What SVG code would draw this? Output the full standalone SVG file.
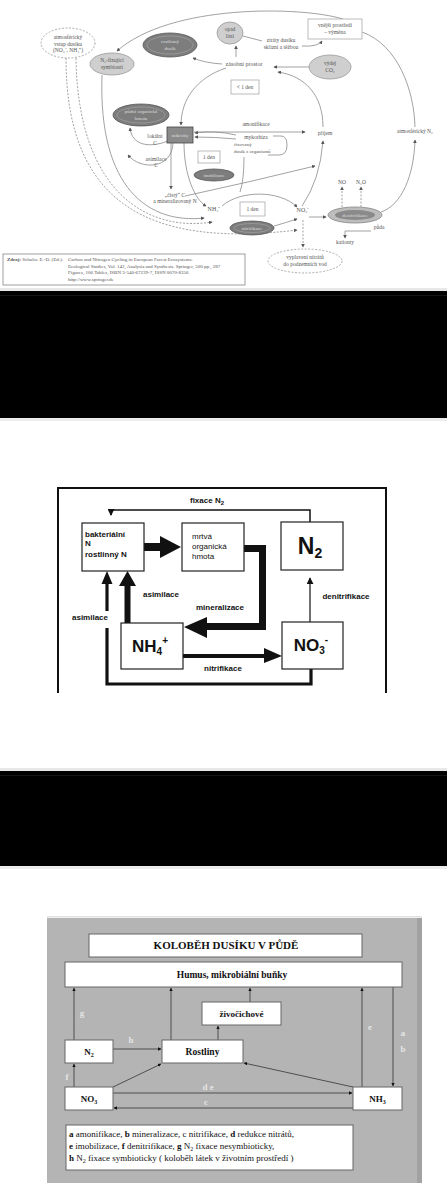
<svg xmlns="http://www.w3.org/2000/svg" width="447" height="1183" viewBox="0 0 447 1183">
<style>
.t{font-family:"Liberation Serif",serif;font-size:5.5px;fill:#555;text-anchor:middle}
.tl{font-family:"Liberation Serif",serif;font-size:5px;fill:#555;text-anchor:start}
.tw{font-family:"Liberation Serif",serif;font-size:5px;fill:#ddd;text-anchor:middle}
.ln{fill:none;stroke:#8a8a8a;stroke-width:0.8}
.ds{stroke-dasharray:2 1.5}
.el{fill:#fff;stroke:#999;stroke-width:0.8}
.lg{fill:#cfcfcf;stroke:#999;stroke-width:0.8}
.dk{fill:#7d7d7d;stroke:#555;stroke-width:0.8}
.ring{fill:none;stroke:#a8a8a8;stroke-width:0.6}
.sb{fill:#fff;stroke:#aaa;stroke-width:0.8}
.m{font-family:"Liberation Sans",Arial,sans-serif;font-weight:bold;font-size:8px;fill:#111;text-anchor:middle}
.mr{font-family:"Liberation Sans",Arial,sans-serif;font-size:8px;fill:#111}
.mb{fill:#fff;stroke:#222;stroke-width:1.2}
.thin{fill:none;stroke:#111;stroke-width:1.5}
.s{font-family:"Liberation Serif",serif;font-weight:bold;fill:#111;text-anchor:middle}
.wb{fill:#fff;stroke:#666;stroke-width:1}
.bl{stroke:#444;stroke-width:0.9;fill:none}
.lb{font-family:"Liberation Serif",serif;font-weight:bold;font-size:9px;fill:#e4e4e4;text-anchor:middle}
.lt{font-family:"Liberation Serif",serif;font-size:9px;fill:#111}
</style>
<defs>
<marker id="ta" viewBox="0 0 6 6" refX="5" refY="3" markerWidth="4.5" markerHeight="4.5" orient="auto"><path d="M0,0 L6,3 L0,6 z" fill="#555"/></marker>
<marker id="ma" viewBox="0 0 8 8" refX="7" refY="4" markerWidth="7" markerHeight="7" markerUnits="userSpaceOnUse" orient="auto"><path d="M0,0 L8,4 L0,8 z" fill="#111"/></marker>
<marker id="ba" viewBox="0 0 6 6" refX="5.5" refY="3" markerWidth="4" markerHeight="4" orient="auto"><path d="M0,0 L6,3 L0,6 z" fill="#111"/></marker>
</defs>

<rect width="447" height="1183" fill="#fff"/>

<!-- ================= TOP PANEL ================= -->
<g id="top-connectors">
<path class="ln" d="M343 19 C300 6 170 4 117 51" marker-end="url(#ta)"/>
<path class="ln" d="M236 57 L236 46" marker-end="url(#ta)"/>
<path class="ln" d="M243 36 L262 41"/>
<path class="ln" d="M302 46 Q318 47 322 41" marker-end="url(#ta)"/>
<path class="ln" d="M222 64 Q205 63 193 58" marker-end="url(#ta)"/>
<path class="ln" d="M226 68 C196 78 181 100 181 125" marker-end="url(#ta)"/>
<path class="ln" d="M309 67 L274 67" marker-end="url(#ta)"/>
<path class="ln" d="M323 127 C323 95 305 76 278 72" marker-end="url(#ta)"/>
<path class="ln" d="M362 32 C398 45 414 90 415 127"/>
<path class="ln" d="M381 212 C402 205 414 175 415 140" marker-end="url(#ta)"/>
<path class="ln" d="M194 132 L305 132" marker-end="url(#ta)"/>
<path class="ln" d="M273 136 L281 136 Q287 136 287 145 Q287 155 279 155 L268 155"/>
<path class="ln" d="M236 135 Q215 130 195 133" marker-end="url(#ta)"/>
<path class="ln" d="M236 139 Q215 137 195 137" marker-end="url(#ta)"/>
<path class="ln" d="M168 141 C150 148 132 146 130 128" marker-end="url(#ta)"/>
<path class="ln" d="M173 143 C172 170 140 170 128 155" marker-end="url(#ta)"/>
<path class="ln" d="M171 143 L171 189" marker-end="url(#ta)"/>
<path class="ln" d="M184 143 C184 175 195 200 206 206" marker-end="url(#ta)"/>
<path class="ln" d="M244 157 Q244 180 240 192"/>
<path class="ln" d="M185 196 Q250 182 315 166" marker-end="url(#ta)"/>
<path class="ln" d="M302 206 Q320 180 323 141" marker-end="url(#ta)"/>
<path class="ln" d="M222 206 C240 190 280 190 297 207" marker-end="url(#ta)"/>
<path class="ln" d="M274 226 Q288 222 297 219" marker-end="url(#ta)"/>
<path class="ln" d="M309 217 L326 217" marker-end="url(#ta)"/>
<path class="ln ds" d="M342 207 L342 187" marker-end="url(#ta)"/>
<path class="ln ds" d="M361 207 L361 187" marker-end="url(#ta)"/>
<path class="ln" d="M371 231 L345 231 L345 238" marker-end="url(#ta)"/>
<path class="ln ds" d="M303 220 L303 247" marker-end="url(#ta)"/>
<path class="ln ds" d="M66 58 C66 205 150 248 297 230" marker-end="url(#ta)"/>
<path class="ln ds" d="M76 58 C78 195 150 232 212 222" marker-end="url(#ta)"/>
<path class="ln" d="M102 75 C98 190 150 224 204 218" marker-end="url(#ta)"/>
</g>

<g id="t-atm"><ellipse class="el ds" cx="68" cy="43" rx="27" ry="15"/>
<text class="t" x="68" y="39">atmosférický</text><text class="t" x="68" y="45.5">vstup dusíku</text><text class="t" x="68" y="52">(NO₃⁻, NH₄⁺)</text></g>
<g id="t-fix"><ellipse class="lg" cx="112" cy="64" rx="22" ry="11"/>
<text class="t" x="112" y="62">N₂-fixující</text><text class="t" x="112" y="68.5">symbionti</text></g>
<g id="t-plant"><ellipse class="dk" cx="170" cy="45" rx="27" ry="12"/><ellipse class="ring" cx="170" cy="45" rx="23" ry="9"/>
<text class="tw" x="170" y="43">rostlinný</text><text class="tw" x="170" y="49.5">dusík</text></g>
<g id="t-opad"><ellipse class="lg" cx="230" cy="33" rx="13" ry="11"/>
<text class="t" x="230" y="31">opad</text><text class="t" x="230" y="37.5">listí</text></g>
<g id="t-loss"><text class="t" x="281" y="42">ztráty dusíku</text><text class="t" x="281" y="48.5">sklizní a těžbou</text></g>
<g id="t-ext"><rect class="sb" x="308" y="19" width="54" height="20"/>
<text class="t" x="335" y="27">vnější prostředí</text><text class="t" x="335" y="33.5">– výměna</text></g>
<g id="t-pool"><text class="t" x="244" y="66" style="font-size:6px">zásobní prostor</text></g>
<g id="t-co2"><ellipse class="lg" cx="330" cy="67" rx="21" ry="12"/>
<text class="t" x="330" y="65">výdej</text><text class="t" x="330" y="71.5">CO₂</text></g>
<g id="t-den1"><rect class="sb" x="231" y="80" width="28" height="14"/><text class="t" x="245" y="89">&lt; 1 den</text></g>
<g id="t-som"><ellipse class="dk" cx="141" cy="115" rx="28" ry="11"/><ellipse class="ring" cx="141" cy="115" rx="24" ry="8"/>
<text class="tw" x="141" y="113">půdní organická</text><text class="tw" x="141" y="119.5">hmota</text></g>
<g id="t-bact"><rect x="167" y="127" width="26" height="16" fill="#8a8a8a" stroke="#444" stroke-width="0.8"/>
<text class="tw" x="180" y="137">mikroby</text></g>
<g id="t-lab1"><text class="t" x="155" y="138">lokální</text><text class="t" x="155" y="145">C</text>
<text class="t" x="156" y="161">asimilace</text><text class="t" x="156" y="167">C</text></g>
<g id="t-amonl"><text class="t" x="256" y="126">amonifikace</text></g>
<g id="t-uptake"><text class="t" x="325" y="135">příjem</text></g>
<g id="t-atmn2"><text class="t" x="415" y="133">atmosférický N₂</text></g>
<g id="t-myk"><text class="t" x="256" y="139">mykorhiza</text>
<text class="tl" x="234" y="146">fixovaný</text><text class="tl" x="234" y="152.5">dusík z organismů</text></g>
<g id="t-den2"><rect class="sb" x="198" y="151" width="22" height="12"/><text class="t" x="209" y="159">1 den</text></g>
<g id="t-imob"><ellipse class="dk" cx="214" cy="175" rx="20" ry="6"/><text class="tw" x="214" y="177" style="font-size:4.5px">imobilizace</text></g>
<g id="t-clean"><text class="t" x="175" y="197">„čistý“ C</text><text class="t" x="175" y="203">a mineralizovaný N</text></g>
<g id="t-nh4"><text class="t" x="214" y="211" style="font-size:6px">NH₄⁺</text></g>
<g id="t-den3"><rect class="sb" x="240" y="202" width="25" height="14"/><text class="t" x="252.5" y="211">1 den</text></g>
<g id="t-nitr"><ellipse class="dk" cx="252" cy="228" rx="22" ry="7"/><ellipse class="ring" cx="252" cy="228" rx="18" ry="4.5"/><text class="tw" x="252" y="230">nitrifikace</text></g>
<g id="t-no3"><text class="t" x="303" y="212" style="font-size:6px">NO₃⁻</text></g>
<g id="t-denit"><ellipse cx="355" cy="215" rx="27" ry="8" fill="#bdbdbd" stroke="#888" stroke-width="0.8"/><ellipse cx="355" cy="215" rx="20" ry="5" fill="#8a8a8a"/>
<text class="tw" x="355" y="217">denitrifikace</text></g>
<g id="t-gas"><text class="t" x="342" y="184">NO</text><text class="t" x="361" y="184">N₂O</text></g>
<g id="t-soil"><text class="t" x="379" y="229">půda</text><text class="t" x="345" y="244">kationty</text></g>
<g id="t-leach"><ellipse class="el ds" cx="305" cy="261" rx="37" ry="12"/>
<text class="t" x="305" y="259">vyplavení nitrátů</text><text class="t" x="305" y="265.5">do podzemních vod</text></g>
<g id="t-source"><rect x="3" y="254" width="242" height="31" fill="#fff" stroke="#888" stroke-width="0.8"/>
<text class="tl" x="7" y="261"><tspan font-weight="bold">Zdroj:</tspan> Schulze E.-D. (Ed.):</text>
<text class="tl" x="68" y="261">Carbon and Nitrogen Cycling in European Forest Ecosystems.</text>
<text class="tl" x="68" y="267.5">Ecological Studies, Vol. 142, Analysis and Synthesis. Springer, 500 pp., 287</text>
<text class="tl" x="68" y="274">Figures, 106 Tables, ISBN 3-540-67239-7, ISSN 0070-8356</text>
<text class="tl" x="68" y="280.5">http://www.springer.de</text></g>

<!-- ================= BLACK BANDS ================= -->
<rect x="0" y="288" width="447" height="3" fill="#e8e8e8"/>
<rect x="0" y="291" width="447" height="127" fill="#000"/>
<rect x="0" y="295" width="447" height="0.8" fill="#1c1c1c"/>
<rect x="0" y="418" width="447" height="3" fill="#ededed"/>
<rect x="0" y="768" width="447" height="3" fill="#e8e8e8"/>
<rect x="0" y="771" width="447" height="95" fill="#000"/>
<rect x="0" y="775" width="447" height="0.8" fill="#1c1c1c"/>
<rect x="0" y="866" width="447" height="3" fill="#ededed"/>

<!-- ================= MIDDLE PANEL ================= -->
<g id="m-connectors">
<path d="M58 693 L58 488 L386 488 L386 693" fill="none" stroke="#111" stroke-width="2"/>
<path class="thin" d="M310 522 L310 510 L111 510 L111 515" marker-end="url(#ma)"/>
<polygon points="144,543 160,543 160,536 181,547 160,558 160,551 144,551" fill="#111"/>
<polygon points="244,545 266,545 266,630 207,630 207,638 184,627 207,617 207,623 259,623 259,552 244,552" fill="#111"/>
<polygon points="183,654 264,654 264,648 282,656 264,663 264,658 183,658" fill="#111"/>
<polygon points="124.5,623 124.5,586 119,586 127.5,571 136,586 130.5,586 130.5,623" fill="#111"/>
<path d="M311 669 L311 684 L107 684 L107 628" fill="none" stroke="#111" stroke-width="3.2"/>
<path d="M107 611 L107 583" fill="none" stroke="#111" stroke-width="3.2"/>
<polygon points="101.5,584 107,571 112.5,584" fill="#111"/>
<path class="thin" d="M310 622 L310 578" marker-end="url(#ma)" style="stroke-width:1.2"/>
</g>
<g id="m-bact"><rect class="mb" x="82" y="523" width="62" height="48"/>
<text class="m" x="85" y="537" style="text-anchor:start">bakteriální</text>
<text class="m" x="85" y="546" style="text-anchor:start">N</text>
<text class="m" x="85" y="557" style="text-anchor:start">rostlinný N</text></g>
<g id="m-dead"><rect class="mb" x="182" y="523" width="62" height="48"/>
<text class="mr" x="192" y="539">mrtvá</text><text class="mr" x="192" y="549">organická</text><text class="mr" x="192" y="559">hmota</text></g>
<g id="m-n2"><rect class="mb" x="281" y="522" width="62" height="48"/>
<text class="m" x="310" y="554" style="font-size:23px">N<tspan font-size="14" dy="4">2</tspan></text></g>
<g id="m-nh4"><rect class="mb" x="121" y="623" width="62" height="46"/>
<text class="m" x="150" y="652" style="font-size:17px">NH<tspan font-size="10" dy="3">4</tspan><tspan font-size="10" dy="-11">+</tspan></text></g>
<g id="m-no3"><rect class="mb" x="282" y="622" width="61" height="47"/>
<text class="m" x="311" y="651" style="font-size:17px">NO<tspan font-size="10" dy="3">3</tspan><tspan font-size="10" dy="-11">-</tspan></text></g>
<g id="m-labels">
<text class="m" x="207" y="503">fixace N<tspan font-size="6" dy="1.5">2</tspan></text>
<text class="m" x="161" y="597">asimilace</text>
<text class="m" x="90" y="620">asimilace</text>
<text class="m" x="220" y="610">mineralizace</text>
<text class="m" x="223" y="671">nitrifikace</text>
<text class="m" x="346" y="599">denitrifikace</text>
</g>

<!-- ================= BOTTOM PANEL ================= -->
<rect x="47" y="916" width="375" height="1.5" fill="#e0e0e0"/>
<rect x="47" y="918" width="370" height="265" fill="#b4b4b4"/>
<rect x="417" y="918" width="5" height="265" fill="#a2a2a2"/>
<g id="b-connectors">
<path class="bl" d="M74 1040 L74 988" marker-end="url(#ba)"/>
<path class="bl" d="M171 1040 L171 988" marker-end="url(#ba)"/>
<path class="bl" d="M250 1002 L250 988" marker-end="url(#ba)"/>
<path class="bl" d="M218 1040 L218 1026" marker-end="url(#ba)"/>
<path class="bl" d="M362 1087 L362 988" marker-end="url(#ba)"/>
<path class="bl" d="M393 987 L393 1086" marker-end="url(#ba)"/>
<path class="bl" d="M113 1049 L161 1049" marker-end="url(#ba)"/>
<path class="bl" d="M74 1087 L74 1064" marker-end="url(#ba)"/>
<path class="bl" d="M113 1087 L161 1064" marker-end="url(#ba)"/>
<path class="bl" d="M353 1087 L244 1063" marker-end="url(#ba)"/>
<path class="bl" d="M113 1093 L352 1093" marker-end="url(#ba)"/>
<path class="bl" d="M353 1108 L114 1108" marker-end="url(#ba)"/>
<text class="lb" x="82" y="1016">g</text>
<text class="lb" x="131" y="1043">h</text>
<text class="lb" x="370" y="1030">e</text>
<text class="lb" x="403" y="1036">a</text>
<text class="lb" x="403" y="1052">b</text>
<text class="lb" x="67" y="1080">f</text>
<text class="lb" x="208" y="1090">d e</text>
<text class="lb" x="206" y="1105">c</text>
</g>
<g id="b-title"><rect class="wb" x="89" y="934" width="273" height="23"/>
<text class="s" x="226" y="949" style="font-size:11px">KOLOBĚH DUSÍKU V PŮDĚ</text></g>
<g id="b-humus"><rect class="wb" x="65" y="962" width="337" height="25"/>
<text class="s" x="232" y="978" style="font-size:9.5px">Humus, mikrobiální buňky</text></g>
<g id="b-animals"><rect class="wb" x="202" y="1002" width="79" height="23"/>
<text class="s" x="241.5" y="1016.5" style="font-size:9px">živočichové</text></g>
<g id="b-plants"><rect class="wb" x="162" y="1040" width="81" height="23"/>
<text class="s" x="202.5" y="1054.5" style="font-size:9.5px">Rostliny</text></g>
<g id="b-n2"><rect class="wb" x="65" y="1040" width="48" height="23"/>
<text class="s" x="89" y="1054.5" style="font-size:9px">N<tspan font-size="6" dy="2">2</tspan></text></g>
<g id="b-no3"><rect class="wb" x="65" y="1087" width="48" height="23"/>
<text class="s" x="89" y="1101.5" style="font-size:9px">NO<tspan font-size="6" dy="2">3</tspan></text></g>
<g id="b-nh3"><rect class="wb" x="353" y="1087" width="49" height="23"/>
<text class="s" x="377.5" y="1101.5" style="font-size:9px">NH<tspan font-size="6" dy="2">3</tspan></text></g>
<g id="b-legend"><rect class="wb" x="66" y="1125" width="287" height="45"/>
<text class="lt" x="69" y="1137"><tspan font-weight="bold">a</tspan> amonifikace, <tspan font-weight="bold">b</tspan> mineralizace, c nitrifikace, <tspan font-weight="bold">d</tspan> redukce nitrátů,</text>
<text class="lt" x="69" y="1149"><tspan font-weight="bold">e</tspan> imobilizace, <tspan font-weight="bold">f</tspan> denitrifikace, <tspan font-weight="bold">g</tspan> N<tspan font-size="6" dy="1.5">2</tspan><tspan dy="-1.5"> fixace nesymbioticky,</tspan></text>
<text class="lt" x="69" y="1161"><tspan font-weight="bold">h</tspan> N<tspan font-size="6" dy="1.5">2</tspan><tspan dy="-1.5"> fixace symbioticky  ( koloběh látek v životním prostředí )</tspan></text></g>
</svg>
